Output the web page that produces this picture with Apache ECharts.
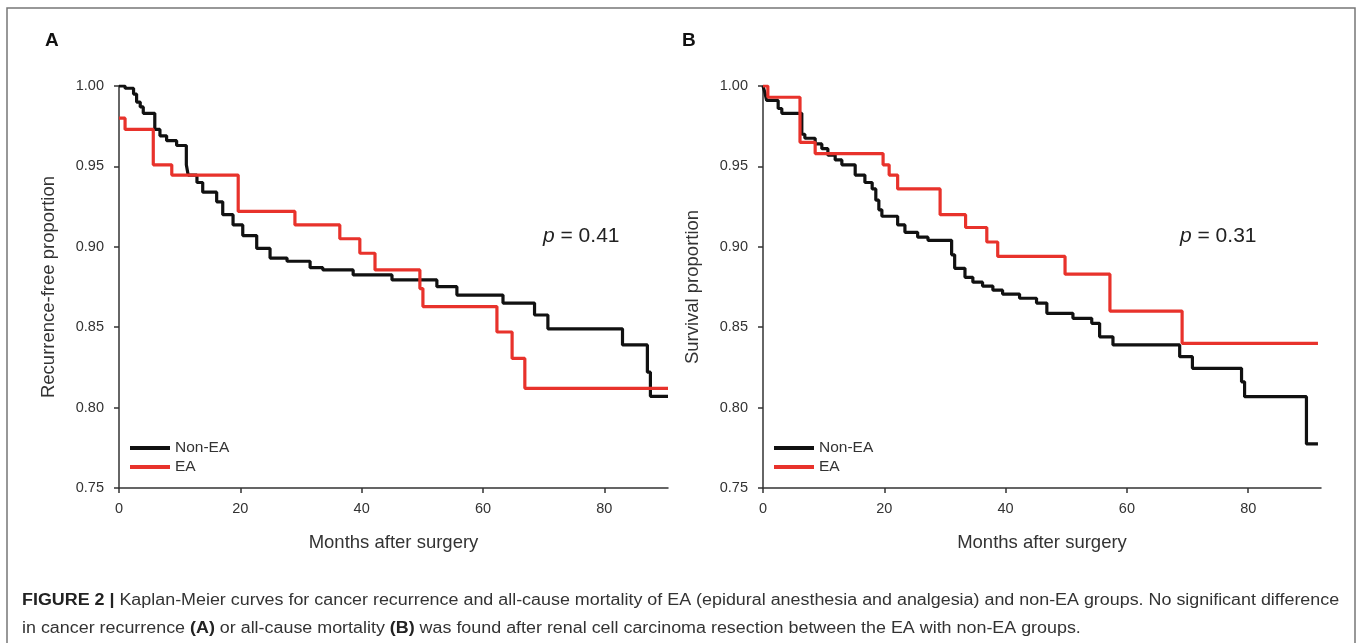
<!DOCTYPE html>
<html>
<head>
<meta charset="utf-8">
<script src="https://cdn.jsdelivr.net/npm/echarts@6/dist/echarts.min.js"></script>
<style>
html,body{margin:0;padding:0;background:#fff;}
#chart{width:1357px;height:643px;}
</style>
</head>
<body>
<div id="chart"></div>
<script>
// ---- Data (months after surgery, proportion) ----
const seriesNames = ['Non-EA', 'EA'];
const xTicks = [0, 20, 40, 60, 80];
const yTicks = [0.75, 0.80, 0.85, 0.90, 0.95, 1.00];

const recurrenceNonEA = [
  [0,1.000],[1.0,0.9986],[2.4,0.995],[2.9,0.990],[3.5,0.987],[4.0,0.983],[5.9,0.973],
  [6.75,0.969],[7.85,0.966],[9.5,0.963],[11.1,0.951],[11.4,0.9446],[12.85,0.940],
  [13.8,0.934],[16.1,0.928],[17.1,0.920],[18.8,0.9136],[20.4,0.907],[22.7,0.899],
  [24.9,0.893],[27.7,0.891],[31.5,0.887],[33.6,0.8856],[38.6,0.8825],[45.0,0.8794],
  [52.4,0.8752],[55.7,0.870],[63.3,0.865],[68.5,0.8576],[70.7,0.849],[83.0,0.839],
  [87.1,0.822],[87.6,0.807],[90.5,0.807]
];
const recurrenceEA = [
  [0,0.980],[1.0,0.973],[5.65,0.951],[8.7,0.9446],[19.65,0.922],[29.0,0.9136],
  [36.4,0.905],[39.7,0.896],[42.2,0.8856],[49.6,0.874],[50.1,0.8628],[62.3,0.847],
  [64.8,0.8306],[66.9,0.812],[90.5,0.812]
];
const survivalNonEA = [
  [0,1.000],[0.3,0.996],[0.6,0.991],[2.5,0.986],[3.1,0.983],[6.4,0.970],[6.9,0.9675],
  [8.6,0.964],[9.7,0.961],[10.7,0.957],[11.9,0.954],[13.0,0.951],[15.2,0.9446],
  [16.8,0.940],[18.0,0.936],[18.6,0.929],[19.1,0.923],[19.6,0.919],[22.2,0.9136],
  [23.4,0.909],[25.5,0.906],[27.2,0.904],[31.1,0.895],[31.6,0.8866],[33.3,0.881],
  [34.6,0.878],[36.2,0.8756],[37.9,0.873],[39.5,0.8706],[42.3,0.868],[45.1,0.865],
  [46.8,0.8586],[51.1,0.8555],[54.2,0.8524],[55.5,0.844],[57.7,0.839],[68.7,0.8317],
  [70.8,0.8244],[78.9,0.816],[79.4,0.8068],[89.6,0.7774],[91.5,0.7774]
];
const survivalEA = [
  [0,1.000],[0.8,0.993],[6.1,0.965],[8.6,0.958],[19.8,0.951],[20.8,0.9446],[22.2,0.936],
  [29.2,0.920],[33.4,0.912],[36.9,0.903],[38.7,0.894],[49.8,0.883],[57.2,0.860],
  [69.1,0.840],[91.5,0.840]
];

const BLACK = '#111111', RED = '#e8322b', AXIS = '#333333', FONT = 'Liberation Sans, Arial, sans-serif';

function xAxisDef(gridIndex, max) {
  return {
    type: 'value', gridIndex, min: 0, max,
    name: 'Months after surgery', nameLocation: 'middle', nameGap: 45,
    nameTextStyle: { fontFamily: FONT, fontSize: 18.5, color: AXIS },
    axisLine: { show: true, lineStyle: { color: AXIS, width: 1.5 } },
    axisTick: { show: true, length: 5, customValues: xTicks, lineStyle: { color: AXIS, width: 1.5 } },
    axisLabel: { customValues: xTicks, fontFamily: FONT, fontSize: 14.5, color: AXIS, margin: 13 },
    splitLine: { show: false }
  };
}
function yAxisDef(gridIndex, name) {
  return {
    type: 'value', gridIndex, min: 0.75, max: 1.0, interval: 0.05,
    name, nameLocation: 'middle', nameGap: 61,
    nameTextStyle: { fontFamily: FONT, fontSize: 18.5, color: AXIS },
    axisLine: { show: true, lineStyle: { color: AXIS, width: 1.5 } },
    axisTick: { show: true, length: 5, lineStyle: { color: AXIS, width: 1.5 } },
    axisLabel: { fontFamily: FONT, fontSize: 14.5, color: AXIS, margin: 15,
      formatter: v => v.toFixed(2) },
    splitLine: { show: false }
  };
}
function lineSeries(name, data, color, idx) {
  return {
    name, type: 'line', step: 'end', data, xAxisIndex: idx, yAxisIndex: idx,
    showSymbol: false, symbol: 'none', animation: false,
    lineStyle: { color, width: 3.2 }, itemStyle: { color }, z: name === 'EA' ? 3 : 2
  };
}
function legendDef(left) {
  return {
    data: seriesNames, orient: 'vertical', left, top: 435, itemGap: 3,
    icon: 'rect', itemWidth: 40, itemHeight: 4, selectedMode: false,
    textStyle: { fontFamily: FONT, fontSize: 15.5, color: AXIS, padding: [0,0,0,0] }
  };
}

const chart = echarts.init(document.getElementById('chart'), null, { renderer: 'canvas' });
chart.setOption({
  backgroundColor: '#ffffff',
  animation: false,
  grid: [
    { left: 119, top: 86, width: 549, height: 402 },
    { left: 763, top: 86, width: 558, height: 402 }
  ],
  xAxis: [xAxisDef(0, 90.5), xAxisDef(1, 92)],
  yAxis: [yAxisDef(0, 'Recurrence-free proportion'), yAxisDef(1, 'Survival proportion')],
  legend: [legendDef(125), legendDef(769)],
  series: [
    lineSeries('Non-EA', recurrenceNonEA, BLACK, 0),
    lineSeries('EA', recurrenceEA, RED, 0),
    lineSeries('Non-EA', survivalNonEA, BLACK, 1),
    lineSeries('EA', survivalEA, RED, 1)
  ],
  graphic: [
    { type: 'polyline', shape: { points: [[7, 643], [7, 8], [1355, 8], [1355, 643]] },
      style: { stroke: '#777', lineWidth: 1.5, fill: null }, silent: true },
    { type: 'text', left: 45, top: 31, style: { text: 'A', font: 'bold 19px ' + FONT, fill: '#111' } },
    { type: 'text', left: 682, top: 31, style: { text: 'B', font: 'bold 19px ' + FONT, fill: '#111' } },
    { type: 'text', left: 543, top: 226, style: {
        text: '{i|p} = 0.41', font: '21px ' + FONT, fill: '#222',
        rich: { i: { fontStyle: 'italic', fontSize: 21, fontFamily: FONT, fill: '#222' } } } },
    { type: 'text', left: 1180, top: 226, style: {
        text: '{i|p} = 0.31', font: '21px ' + FONT, fill: '#222',
        rich: { i: { fontStyle: 'italic', fontSize: 21, fontFamily: FONT, fill: '#222' } } } },
    { type: 'text', x: 22, y: 587, scaleX: 1.118, style: {
        text: '{b|FIGURE 2 |} Kaplan-Meier curves for cancer recurrence and all-cause mortality of EA (epidural anesthesia and analgesia) and non-EA groups. No significant difference\nin cancer recurrence {b|(A)} or all-cause mortality {b|(B)} was found after renal cell carcinoma resection between the EA with non-EA groups.',
        font: '16px ' + FONT, fill: '#333', lineHeight: 28,
        rich: { b: { fontWeight: 'bold', fontSize: 16, fontFamily: FONT, fill: '#222', lineHeight: 28 } } } }
  ]
});
</script>
</body>
</html>
